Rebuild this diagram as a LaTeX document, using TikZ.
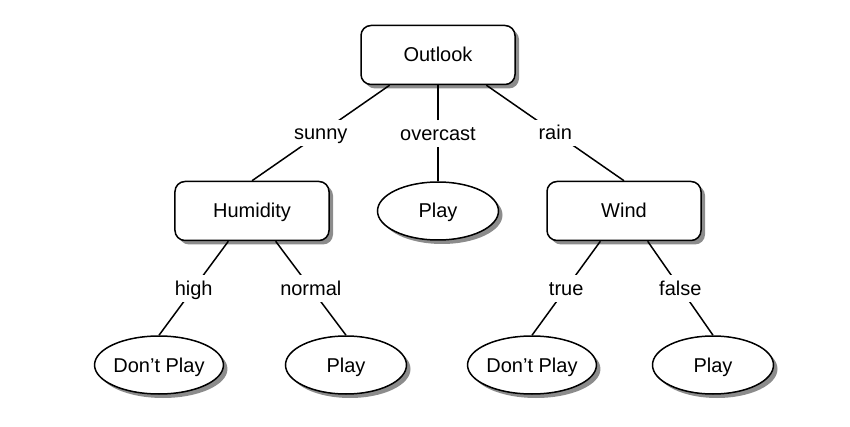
\documentclass[tikz,border=0pt]{standalone}
\usepackage{fontspec}
\setmainfont{Liberation Sans}
\usetikzlibrary{shapes.geometric,shadows}

\begin{document}
\begin{tikzpicture}[auto=false,node distance=93pt,line width=0.75pt,
  text height=7.2pt,text depth=0.2pt,
  test node/.style={rectangle,rounded corners=5pt,draw,fill=white,
    minimum width=77pt,minimum height=29.5pt,
    drop shadow={shadow xshift=2pt,shadow yshift=-2pt,fill=black!45,opacity=1}},
  leaf node/.style={ellipse,draw,fill=white,inner sep=0pt,
    minimum width=60.5pt,minimum height=29pt,
    drop shadow={shadow xshift=2pt,shadow yshift=-2pt,fill=black!45,opacity=1}}]

  \useasboundingbox (-219pt,27.5pt) rectangle (206pt,-186pt);

  \node[test node] (outlook) {Outlook};
  \node[leaf node] (play2) [below of=outlook,node distance=78pt] {Play};
  \node[test node] (humidity) [left of=play2] {Humidity};
  \node[test node] (wind) [right of=play2] {Wind};
  \node[leaf node] (noplay1) [below of=humidity,node distance=77pt,xshift=-46.5pt] {Don't Play};
  \node[leaf node] (play1) [below of=humidity,node distance=77pt,xshift=47pt] {Play};
  \node[leaf node] (noplay3) [below of=wind,node distance=77pt,xshift=-46pt] {Don't Play};
  \node[leaf node] (play3) [below of=wind,node distance=77pt,xshift=44.5pt] {Play};

\path[every node/.style={fill=white,inner sep=3pt}]
	(outlook.212) edge node {sunny} (humidity.north)
	(outlook.south) edge node {overcast} (play2.north)
	(outlook.328) edge node {rain} (wind.north)
	(humidity.232) edge node {high} (noplay1.north)
	(humidity.308) edge node {normal} (play1.north)
	(wind.232) edge node {true} (noplay3.north)
	(wind.308) edge node {false} (play3.north);
\end{tikzpicture}
\end{document}
